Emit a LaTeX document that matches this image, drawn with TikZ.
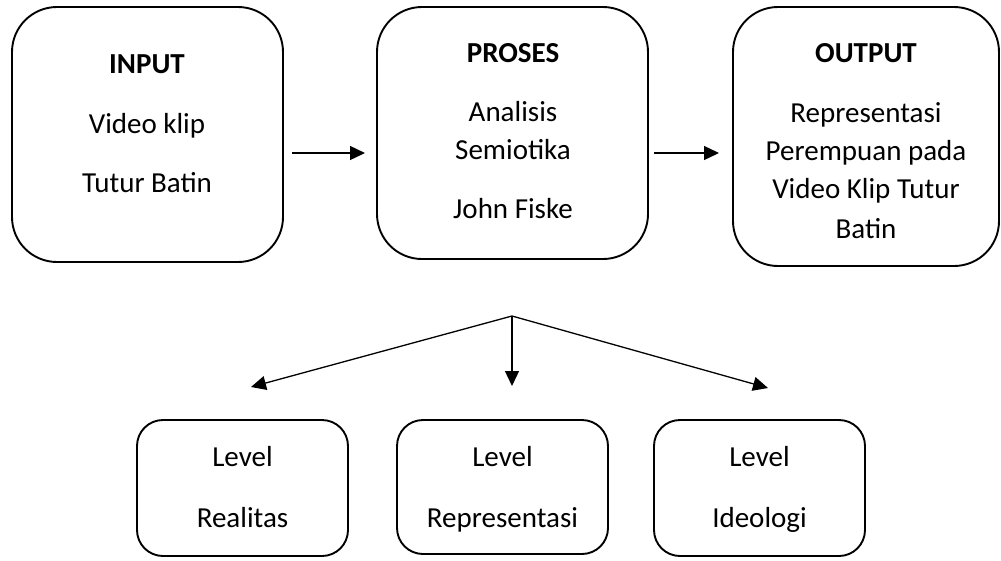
\documentclass[tikz,border=0pt]{standalone}
\usepackage{fontspec}
\setmainfont{Carlito}
\usetikzlibrary{arrows.meta,calc}
\begin{document}
\begin{tikzpicture}[x=1pt,y=-1pt,
  bigbox/.style={draw=black, line width=1.9pt, rounded corners=45pt, inner sep=0pt, outer sep=0pt},
  smallbox/.style={draw=black, line width=1.9pt, rounded corners=26pt, inner sep=0pt, outer sep=0pt},
  txt/.style={anchor=base, inner sep=0pt, font=\fontsize{29}{35}\selectfont},
  btxt/.style={txt, font=\fontsize{29}{35}\selectfont\bfseries},
  arr/.style={line width=1.3pt, -{Triangle[length=15pt,width=14pt]}}]
\useasboundingbox (0,0) rectangle (1001,560);
% top boxes
\node[bigbox, minimum width=271pt, minimum height=255pt] (inp) at (147.5,134.5) {};
\node[bigbox, minimum width=271pt, minimum height=252pt] (pro) at (512.5,133) {};
\node[bigbox, minimum width=266pt, minimum height=259pt] (out) at (866,136.5) {};
% top texts
\node[btxt] (inp1) at (147,73) {INPUT};
\node[txt] (inp2) at (147,133) {Video klip};
\node[txt] (inp3) at (147,192) {Tutur Batin};
\node[btxt] (pro1) at (513,62) {PROSES};
\node[txt] (pro2) at (513,121) {Analisis};
\node[txt] (pro3) at (513,159) {Semiotika};
\node[txt] (pro4) at (513,218) {John Fiske};
\node[btxt] (out1) at (866,62) {OUTPUT};
\node[txt] (out2) at (866,122) {Representasi};
\node[txt] (out3) at (866,160) {Perempuan pada};
\node[txt] (out4) at (866,198) {Video Klip Tutur};
\node[txt] (out5) at (866,238) {Batin};
% horizontal arrows
\draw[arr, shorten <=9pt, shorten >=12pt] (inp.east |- 0,153) -- (pro.west |- 0,153);
\draw[arr, shorten <=6pt, shorten >=14pt] (pro.east |- 0,153) -- (out.west |- 0,153);
% bottom boxes
\node[smallbox, minimum width=211pt, minimum height=136pt] (lr) at (242.5,488) {};
\node[smallbox, minimum width=211pt, minimum height=134pt] (lp) at (502.5,487) {};
\node[smallbox, minimum width=211pt, minimum height=136pt] (li) at (759.5,488) {};
\node[txt] (lr1) at (242.5,466) {Level};
\node[txt] (lr2) at (242.5,527) {Realitas};
\node[txt] (lp1) at (502.5,466) {Level};
\node[txt] (lp2) at (502.5,527) {Representasi};
\node[txt] (li1) at (759.5,466) {Level};
\node[txt] (li2) at (759.5,527) {Ideologi};
% branching arrows
\coordinate (split) at (512,316);
\draw[arr] (split) -- ([shift={(8.5pt,33pt)}]lr.north);
\draw[arr] (split) -- ([shift={(9.5pt,34pt)}]lp.north);
\draw[arr] (split) -- ([shift={(8.5pt,32pt)}]li.north);
\end{tikzpicture}
\end{document}
